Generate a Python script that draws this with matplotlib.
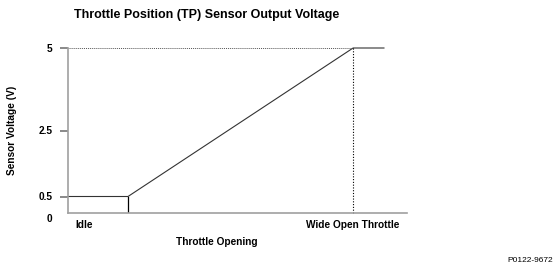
import matplotlib
matplotlib.use("Agg")
import matplotlib.pyplot as plt

plt.rcParams['font.family'] = ['Liberation Sans', 'DejaVu Sans']

# throttle opening (0-100 scale along x axis) and sensor voltage
throttle = [0, 17.7, 84.1, 93.2]
voltage = [0.5, 0.5, 5.0, 5.0]
idle_end = 17.7
wot = 84.1
y_ticks = [0.5, 2.5, 5]
y_tick_labels = ['0.5', '2.5', '5']
x_tick_pos = [4.7, 84.1]
x_tick_labels = ['Idle', 'Wide Open Throttle']

fig = plt.figure(figsize=(5.55, 2.8), dpi=100)
ax = fig.add_axes([68/555, 1-213/280, (407-68)/555, (213-48)/280])

ax.plot(throttle, voltage, color='#333333', lw=0.8, clip_on=False)
ax.plot([idle_end, idle_end], [0, 0.5], color='black', lw=0.9)
ax.plot([0, wot], [5, 5], color='#555555', lw=0.7, ls=(0, (1, 1)), clip_on=False)
ax.plot([wot, wot], [0, 5], color='black', lw=0.8, ls=(0, (1, 1.5)), clip_on=False)

ax.set_xlim(0, 100)
ax.set_ylim(0, 5)

for s in ['top', 'right']:
    ax.spines[s].set_visible(False)
ax.spines['left'].set_color('#a0a0a0')
ax.spines['bottom'].set_color('#a0a0a0')
ax.spines['left'].set_linewidth(1.2)
ax.spines['bottom'].set_linewidth(1.2)

ax.set_yticks(y_ticks)
ax.set_yticklabels(y_tick_labels, fontsize=7.3, fontweight='bold')
ax.tick_params(axis='y', left=True, direction='out', length=6,
               width=1.3, color='#808080', pad=5)

# the "0" label sits a little below the x axis, with no tick mark
ax.annotate('0', xy=(0, 0), xycoords=('axes fraction', 'data'),
            xytext=(-11, -4), textcoords='offset points',
            ha='right', va='center', fontsize=7.3, fontweight='bold')

ax.set_xticks(x_tick_pos)
ax.set_xticklabels(x_tick_labels, fontsize=7.3, fontweight='bold')
ax.tick_params(axis='x', length=0, pad=5)

ax.set_ylabel('Sensor Voltage (V)', fontsize=7.3, fontweight='bold', labelpad=0)
ax.yaxis.set_label_coords(-0.15, 0.5)
ax.set_xlabel('Throttle Opening', fontsize=7.3, fontweight='bold')
ax.xaxis.set_label_coords(0.44, -0.145)

fig.text(207/555, 1-15/280, 'Throttle Position (TP) Sensor Output Voltage',
         fontsize=9, fontweight='bold', ha='center', va='center')
fig.text(553/555, 1-260/280, 'P0122-9672', fontsize=6, ha='right', va='center')

fig.savefig('out.png', dpi=100)
